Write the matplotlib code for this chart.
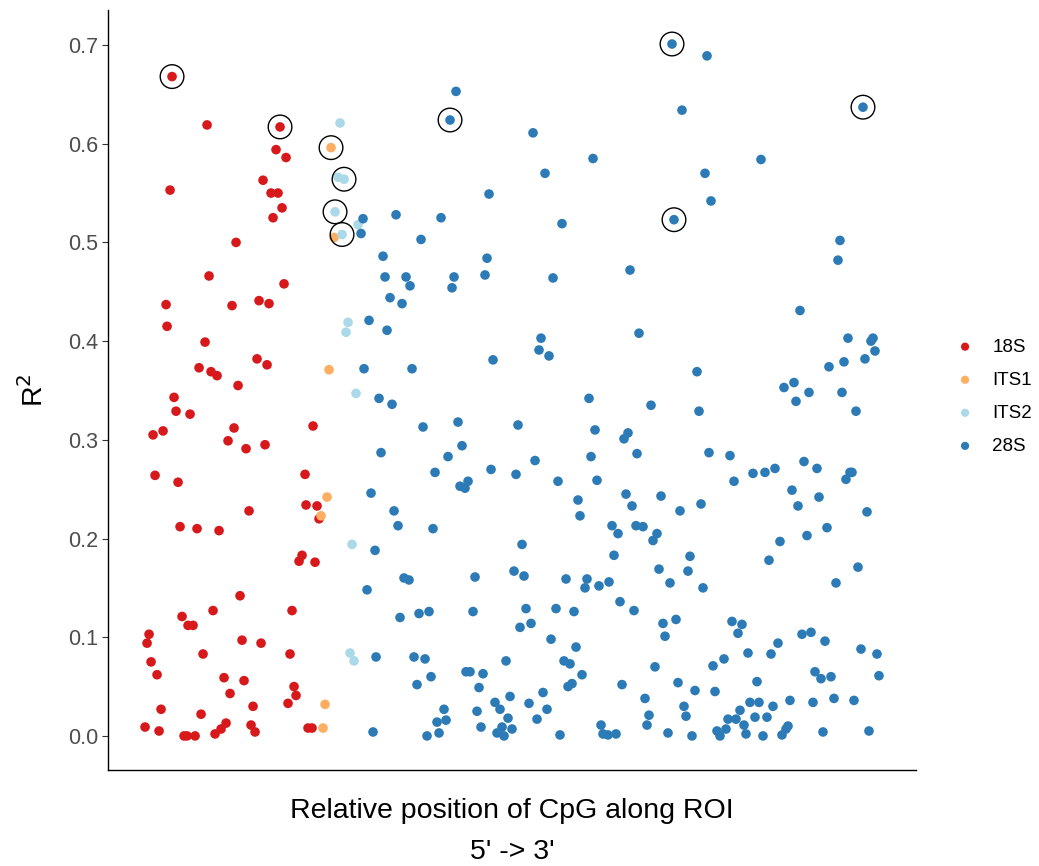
import matplotlib
matplotlib.use("Agg")
import matplotlib.pyplot as plt

plt.rcParams['font.family'] = ['Liberation Sans', 'DejaVu Sans']

categories = ["18S", "ITS1", "ITS2", "28S"]
colors = ["#D7191C", "#FDAE61", "#ABD9E9", "#2C7BB6"]

s18_x = [72, 107, 180, 176, 186, 163, 70, 171, 178, 182, 173, 136,
         109, 184, 66, 132, 159, 169, 67, 105, 157, 167, 99, 111, 117, 138, 74, 76, 90, 53,
         63, 134, 213, 128, 146, 165, 55, 78, 205, 206, 217, 149,
         219, 80, 97, 119, 202, 199, 215, 140, 113, 192, 82, 88, 93, 49, 47, 142, 161, 103,
         190, 51, 57, 124, 144, 130, 194, 196, 188, 61, 101, 153, 45, 59, 84, 87, 95, 115,
         121, 126, 151, 155, 208, 212]
s18_y = [0.668, 0.619, 0.617, 0.594, 0.586, 0.563, 0.553, 0.550, 0.550, 0.535, 0.525, 0.500,
         0.466, 0.458, 0.437, 0.436, 0.441, 0.438, 0.415, 0.399, 0.382, 0.376, 0.373, 0.369, 0.365, 0.355, 0.343, 0.329, 0.326, 0.305,
         0.309, 0.312, 0.314, 0.299, 0.291, 0.295, 0.264, 0.257, 0.265, 0.234, 0.233, 0.228,
         0.220, 0.212, 0.210, 0.208, 0.183, 0.177, 0.176, 0.142, 0.127, 0.127, 0.121, 0.112, 0.112, 0.103, 0.094, 0.097, 0.094, 0.083,
         0.083, 0.075, 0.062, 0.059, 0.056, 0.043, 0.050, 0.041, 0.033, 0.027, 0.022, 0.030, 0.009, 0.005, 0.000, 0.000, 0.000, 0.002,
         0.007, 0.013, 0.011, 0.004, 0.008, 0.008]

its1_x = [231, 234, 229, 227, 221, 225, 223]
its1_y = [0.596, 0.505, 0.371, 0.242, 0.223, 0.032, 0.008]

its2_x = [240, 238, 244, 235, 258, 242, 248, 246, 256, 252, 250, 254]
its2_y = [0.621, 0.566, 0.564, 0.531, 0.518, 0.508, 0.419, 0.409, 0.347, 0.194, 0.084, 0.076]

s28_x = [263, 261,
         356, 350, 433, 493, 445, 389, 296, 341, 462, 321, 283, 387, 530,
         572, 607, 763, 582, 661, 605, 611, 574, 740, 738,
         269, 264, 279, 281, 271,
         285, 306, 310, 354, 352, 385, 453, 290, 302, 287, 539, 441, 439, 449, 393, 312, 489,
         292, 323, 358, 418, 495, 528, 524, 362, 348, 435, 491, 537, 335, 391, 416, 360, 365,
         368, 458, 497, 478, 526, 532, 294, 480,
         700, 748, 771, 773, 775, 765, 744, 729, 597, 694, 684, 709, 696, 742, 551, 599, 756,
         609, 630, 634, 653, 665, 675, 704, 717, 750, 752, 746, 692, 719, 561, 580, 601, 698, 767,
         298, 333, 512, 518, 536, 275, 422, 514, 304, 309, 375, 414, 424, 466, 487, 485, 499, 509,
         520, 534, 300, 319, 329, 373, 426, 456, 474, 420, 431, 451, 476, 276, 314, 325, 406, 464,
         470, 366, 370, 383, 331, 317, 379, 482, 468, 472, 522, 443, 395, 400, 410, 429, 447, 344,
         337, 346, 377, 408, 437, 381, 397, 402, 404, 412, 327, 339, 460, 501, 503, 508, 516, 273,
         267,
         543, 557, 553, 680, 707, 727, 590, 669, 559, 588, 758, 570, 603, 736, 563, 576, 565, 632,
         642, 638, 702, 711, 725, 678, 648, 671, 761, 777, 624, 613, 555, 715, 721, 731, 779, 578,
         595, 615, 657, 545, 584, 586, 549, 547, 650, 659, 673, 690, 713, 734, 754, 640, 628, 636,
         644, 655, 667, 568, 592, 617, 620, 626, 646, 663, 682, 686, 688, 723, 769]
s28_y = [0.524, 0.509,
         0.653, 0.624, 0.611, 0.585, 0.570, 0.549, 0.528, 0.525, 0.519, 0.503, 0.486, 0.484, 0.472,
         0.701, 0.689, 0.637, 0.634, 0.584, 0.570, 0.542, 0.523, 0.502, 0.482,
         0.421, 0.372, 0.342, 0.287, 0.246,
         0.465, 0.465, 0.456, 0.465, 0.454, 0.467, 0.464, 0.444, 0.438, 0.411, 0.408, 0.403, 0.391, 0.385, 0.381, 0.372, 0.342,
         0.336, 0.313, 0.318, 0.315, 0.310, 0.307, 0.301, 0.294, 0.283, 0.279, 0.283, 0.286, 0.267, 0.270, 0.265, 0.253, 0.251,
         0.258, 0.258, 0.259, 0.239, 0.245, 0.233, 0.228, 0.223,
         0.431, 0.403, 0.400, 0.403, 0.390, 0.382, 0.379, 0.374, 0.369, 0.358, 0.353, 0.348, 0.339, 0.348, 0.335, 0.329, 0.329,
         0.287, 0.284, 0.258, 0.266, 0.267, 0.271, 0.278, 0.271, 0.267, 0.267, 0.260, 0.249, 0.242, 0.243, 0.228, 0.235, 0.233, 0.227,
         0.213, 0.210, 0.213, 0.205, 0.213, 0.188, 0.194, 0.183, 0.160, 0.158, 0.161, 0.167, 0.162, 0.159, 0.159, 0.150, 0.152, 0.156,
         0.136, 0.127, 0.120, 0.124, 0.126, 0.126, 0.129, 0.129, 0.126, 0.110, 0.114, 0.098, 0.090, 0.080, 0.080, 0.078, 0.076, 0.076,
         0.073, 0.065, 0.065, 0.063, 0.060, 0.052, 0.049, 0.062, 0.050, 0.053, 0.052, 0.044, 0.034, 0.027, 0.040, 0.033, 0.027, 0.027,
         0.014, 0.016, 0.025, 0.018, 0.017, 0.009, 0.003, 0.009, 0.000, 0.007, 0.000, 0.003, 0.001, 0.011, 0.002, 0.001, 0.002, 0.004,
         0.148,
         0.212, 0.205, 0.198, 0.197, 0.203, 0.211, 0.182, 0.178, 0.169, 0.167, 0.171, 0.155, 0.150, 0.155, 0.114, 0.118, 0.101, 0.116,
         0.113, 0.104, 0.103, 0.105, 0.096, 0.094, 0.084, 0.083, 0.088, 0.083, 0.078, 0.071, 0.070, 0.065, 0.058, 0.060, 0.061, 0.054,
         0.046, 0.045, 0.055, 0.038, 0.030, 0.020, 0.021, 0.011, 0.034, 0.034, 0.030, 0.036, 0.034, 0.038, 0.036, 0.026, 0.017, 0.017,
         0.011, 0.019, 0.019, 0.003, 0.000, 0.005, 0.000, 0.007, 0.002, 0.000, 0.001, 0.007, 0.010, 0.004, 0.005]

# highlighted (circled) CpGs
hl_x = [72, 180, 231, 244, 235, 242, 350, 572, 574, 763]
hl_y = [0.668, 0.617, 0.596, 0.564, 0.531, 0.508, 0.624, 0.701, 0.523, 0.637]

yticks = [0.0, 0.1, 0.2, 0.3, 0.4, 0.5, 0.6, 0.7]

fig = plt.figure(figsize=(10.39, 8.66), dpi=100)
ax = fig.add_axes([0.104, 0.111, 0.7776, 0.8775])

series = [(s18_x, s18_y), (its1_x, its1_y), (its2_x, its2_y), (s28_x, s28_y)]
for (xs, ys), cat, col in zip(series, categories, colors):
    ax.scatter(xs, ys, s=48, color=col, edgecolors='none', label=cat, zorder=2)

ax.scatter(hl_x, hl_y, s=290, facecolors='none', edgecolors='black', linewidths=1.0, zorder=3)

ax.set_xlim(8, 816)
ax.set_ylim(-0.0344, 0.7355)
ax.set_yticks(yticks)
ax.set_yticklabels([f"{v:.1f}" for v in yticks])
ax.set_xticks([])
ax.tick_params(axis='y', labelsize=15.5, labelcolor='#4D4D4D', color='#333333',
               length=4, width=0.8, pad=3)
for side in ['top', 'right']:
    ax.spines[side].set_visible(False)
for side in ['left', 'bottom']:
    ax.spines[side].set_linewidth(1.0)
    ax.spines[side].set_color('black')

ax.set_xlabel("Relative position of CpG along ROI\n5' -> 3'", fontsize=20.5, linespacing=1.75, labelpad=20)
ax.set_ylabel("R$^2$", fontsize=20.5, labelpad=14)

leg = ax.legend(loc='center left', bbox_to_anchor=(0.918, 0.542), bbox_transform=fig.transFigure,
                frameon=False, fontsize=13.5, markerscale=0.85, handletextpad=0.85, labelspacing=0.85,
                handlelength=1.2, borderaxespad=0, borderpad=0)

fig.savefig("out.png", dpi=100)
